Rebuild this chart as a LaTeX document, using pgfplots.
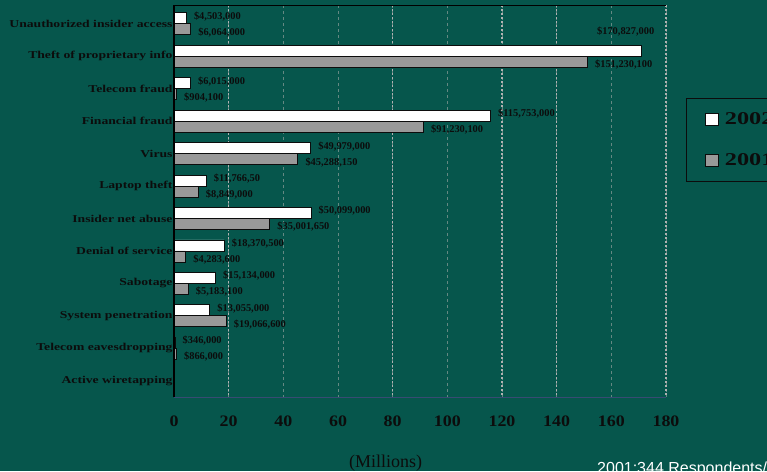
\documentclass[border=0pt]{standalone}
\usepackage{pgfplots}
\pgfplotsset{compat=1.18}
\usepackage{pgfplotstable}
\usepackage{fontspec}
\setmainfont{Liberation Serif}
\setsansfont{Liberation Sans}
\newfontfamily\catfont[FakeStretch=1.3]{Liberation Serif}
\newfontfamily\tickfam[FakeStretch=1.12]{Liberation Serif}
\newfontfamily\legfam[FakeStretch=1.35]{Liberation Serif}
\definecolor{bg}{RGB}{6,86,76}
\definecolor{txt}{RGB}{12,12,12}
\definecolor{gridA}{RGB}{178,178,178}
\definecolor{gridB}{RGB}{100,136,130}
\definecolor{barB}{RGB}{153,153,153}
\definecolor{bottomline}{RGB}{55,75,115}
\newcommand{\lblfont}{\bfseries\fontsize{10.4}{12}\selectfont}

\pgfplotstableread{
y x lab
0 4.503 {\$4,503,000}
2 6.015 {\$6,015,000}
3 115.753 {\$115,753,000}
4 49.979 {\$49,979,000}
5 11.7665 {\$11,766,50}
6 50.099 {\$50,099,000}
7 18.3705 {\$18,370,500}
8 15.134 {\$15,134,000}
9 13.055 {\$13,055,000}
10 0.346 {\$346,000}
}\datatwo

\pgfplotstableread{
y x lab
1 170.827 {}
}\datatheft

\pgfplotstableread{
y x lab
0 6.064 {\$6,064,000}
1 151.2301 {\$151,230,100}
2 0.9041 {\$904,100}
3 91.2301 {\$91,230,100}
4 45.28815 {\$45,288,150}
5 8.849 {\$8,849,000}
6 35.00165 {\$35,001,650}
7 4.2836 {\$4,283,600}
8 5.1831 {\$5,183,100}
9 19.0666 {\$19,066,600}
10 0.866 {\$866,000}
}\dataone

\begin{document}
\begin{tikzpicture}[x=1pt,y=1pt]
\fill[bg] (0,0) rectangle (767,471);
\begin{axis}[
  at={(174pt,74pt)}, anchor=south west,
  scale only axis, width=492pt, height=392pt,
  xbar, bar width=11pt,
  xmin=0, xmax=180, ymin=-0.58, ymax=11.5, y dir=reverse,
  xtick={0,20,...,180},
  ytick={0,...,11},
  yticklabels={Unauthorized insider access, Theft of proprietary info, Telecom fraud, Financial fraud, Virus, Laptop theft, Insider net abuse, Denial of service, Sabotage, System penetration, Telecom eavesdropping, Active wiretapping},
  major tick length=0pt,
  axis line style={draw=none},
  xmajorgrids,
  major grid style={gridB, line width=0.6pt, dash pattern=on 3pt off 3pt},
  extra x ticks={20,80,120,140,180},
  extra x tick labels={},
  extra x tick style={grid=major, major grid style={gridA, line width=1.4pt, dash pattern=on 1.5pt off 2.5pt}},
  /pgf/number format/assume math mode=true,
  xticklabel style={font=\tickfam\bfseries\fontsize{16}{18}\selectfont, text=txt, yshift=-15pt},
  yticklabel style={font=\catfont\bfseries\fontsize{10.5}{12}\selectfont, text=txt, xshift=2pt},
  legend style={at={(1.0407,0.763)}, anchor=north west, fill=bg, draw=txt, line width=0.8pt,
    font=\legfam\bfseries\fontsize{18}{20}\selectfont, text=txt, row sep=28pt, column sep=6pt,
    inner xsep=19pt, inner ysep=14pt, nodes={inner sep=0pt},
    legend cell align=left},
  legend image code/.code={\draw[#1, line width=1pt] (0pt,-6pt) rectangle (12.5pt,6pt);},
  clip=false,
]
\addplot[fill=white, draw=txt, line width=0.8pt, bar shift=5.5pt,
  nodes near coords, point meta=explicit symbolic,
  every node near coord/.append style={anchor=west, font=\lblfont, text=txt, xshift=4pt, yshift=2pt}]
  table[x=x, y=y, meta=lab] {\datatwo};
\addlegendentry{2002}
\addplot[fill=barB, draw=txt, line width=0.8pt, bar shift=-5.5pt,
  nodes near coords, point meta=explicit symbolic,
  every node near coord/.append style={anchor=west, font=\lblfont, text=txt, xshift=4pt, yshift=-3pt}]
  table[x=x, y=y, meta=lab] {\dataone};
\addlegendentry{2001}
\addplot[fill=white, draw=txt, line width=0.8pt, bar shift=5.5pt, forget plot]
  table[x=x, y=y] {\datatheft};
\node[anchor=east, inner sep=0pt, font=\lblfont, text=txt] at (axis cs:175.8,0.25) {\$170,827,000};
\draw[black, line width=1.6pt] (rel axis cs:0,0) -- (rel axis cs:0,1);
\draw[black, line width=0.8pt] (rel axis cs:0,1) -- (rel axis cs:1,1);
\draw[bottomline, line width=1pt] (rel axis cs:0,0) -- (rel axis cs:1,0);
\end{axis}
\node[anchor=base west, inner sep=0pt, font=\fontsize{18}{20}\selectfont, text=txt] at (349,3.5) {(Millions)};
\node[anchor=base west, inner sep=0pt, font=\sffamily\fontsize{16}{18}\selectfont, text=white] at (597,-2.5) {2001:344 Respondents/\$377,828,700};
\pgfresetboundingbox
\path[use as bounding box] (0,0) rectangle (767,471);
\end{tikzpicture}
\end{document}
